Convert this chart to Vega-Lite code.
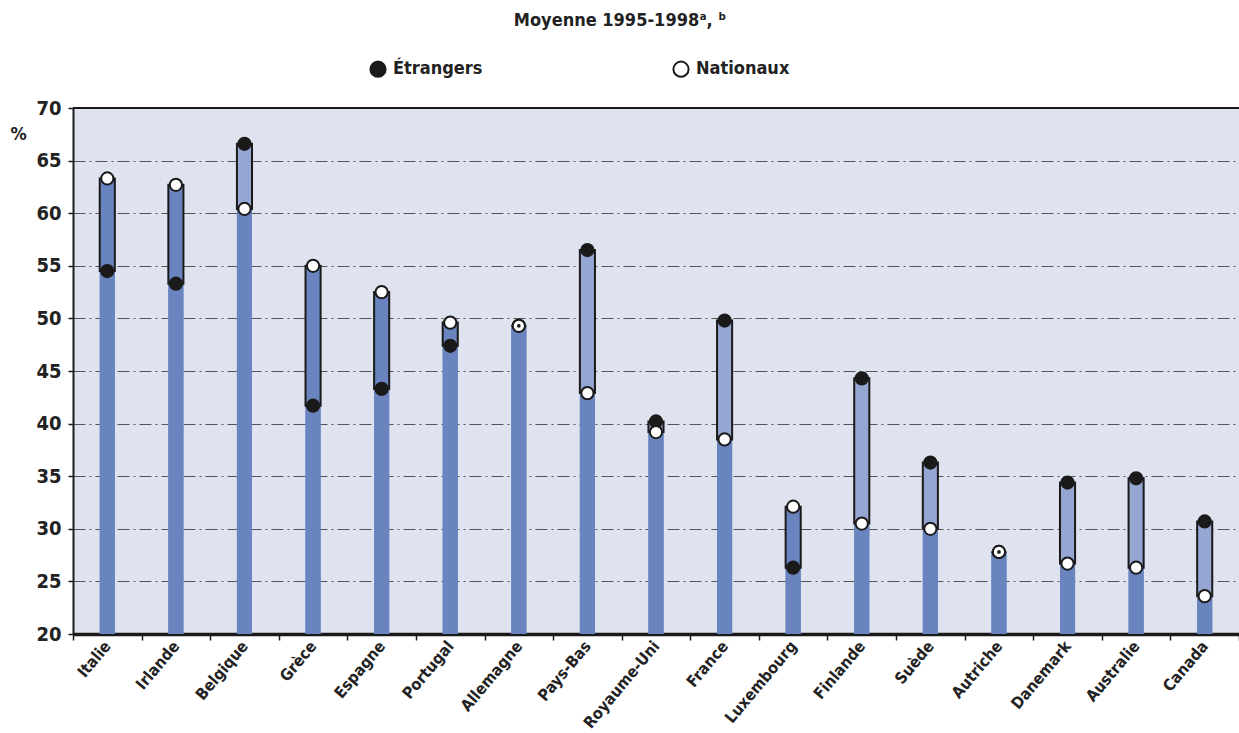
{
  "$schema": "https://vega.github.io/schema/vega-lite/v6.json",
  "width": 1166,
  "height": 526,
  "autosize": {"type": "none"},
  "padding": {"left": 73, "top": 108, "right": 0, "bottom": 99},
  "background": "white",
  "title": {
    "text": "Moyenne 1995-1998ᵃ, ᵇ",
    "frame": "group",
    "anchor": "middle",
    "dx": -36,
    "offset": 30,
    "font": "Liberation Sans Narrow, DejaVu Sans Condensed, sans-serif",
    "fontSize": 18,
    "fontWeight": "bold",
    "color": "#222222"
  },
  "data": {
    "values": [
      {"pays": "Italie", "Étrangers": 54.5, "Nationaux": 63.3},
      {"pays": "Irlande", "Étrangers": 53.3, "Nationaux": 62.7},
      {"pays": "Belgique", "Étrangers": 66.6, "Nationaux": 60.4},
      {"pays": "Grèce", "Étrangers": 41.7, "Nationaux": 55.0},
      {"pays": "Espagne", "Étrangers": 43.3, "Nationaux": 52.5},
      {"pays": "Portugal", "Étrangers": 47.4, "Nationaux": 49.6},
      {"pays": "Allemagne", "Étrangers": 49.3, "Nationaux": 49.3},
      {"pays": "Pays-Bas", "Étrangers": 56.5, "Nationaux": 42.9},
      {"pays": "Royaume-Uni", "Étrangers": 40.2, "Nationaux": 39.2},
      {"pays": "France", "Étrangers": 49.8, "Nationaux": 38.5},
      {"pays": "Luxembourg", "Étrangers": 26.3, "Nationaux": 32.1},
      {"pays": "Finlande", "Étrangers": 44.3, "Nationaux": 30.5},
      {"pays": "Suède", "Étrangers": 36.3, "Nationaux": 30.0},
      {"pays": "Autriche", "Étrangers": 27.8, "Nationaux": 27.8},
      {"pays": "Danemark", "Étrangers": 34.4, "Nationaux": 26.7},
      {"pays": "Australie", "Étrangers": 34.8, "Nationaux": 26.3},
      {"pays": "Canada", "Étrangers": 30.7, "Nationaux": 23.6}
    ]
  },
  "layer": [
    {
      "mark": {"type": "bar", "width": {"band": 0.22}, "color": "#6a84bf"},
      "encoding": {
        "x": {"field": "pays", "type": "nominal", "sort": null, "title": null, "scale": {"paddingInner": 0, "paddingOuter": 0}},
        "y": {"field": "Étrangers", "type": "quantitative", "title": "%", "scale": {"domain": [20, 70], "zero": false, "nice": false}},
        "y2": {"datum": 20}
      }
    },
    {
      "mark": {"type": "bar", "width": {"band": 0.22}, "color": "#6a84bf"},
      "encoding": {
        "x": {"field": "pays", "type": "nominal", "sort": null, "title": null},
        "y": {"field": "Nationaux", "type": "quantitative", "title": "%"},
        "y2": {"datum": 20}
      }
    },
    {
      "mark": {"type": "bar", "width": {"band": 0.22}, "stroke": "#1a1a1a", "strokeWidth": 2},
      "encoding": {
        "x": {"field": "pays", "type": "nominal", "sort": null, "title": null},
        "y": {"field": "Étrangers", "type": "quantitative", "title": "%"},
        "y2": {"field": "Nationaux"},
        "fill": {
          "condition": {"test": "datum['Nationaux'] > datum['Étrangers']", "value": "#6a84bf"},
          "value": "#95a6d3"
        }
      }
    },
    {
      "mark": {"type": "rule", "color": "#1a1a1a", "strokeWidth": 1.5},
      "encoding": {"y": {"datum": 70}}
    },
    {
      "transform": [{"fold": ["Étrangers", "Nationaux"], "as": ["type", "value"]}],
      "mark": {"type": "point", "filled": true, "size": 150, "stroke": "#1a1a1a", "strokeWidth": 2, "opacity": 1, "shape": "circle"},
      "encoding": {
        "x": {"field": "pays", "type": "nominal", "sort": null, "title": null},
        "y": {"field": "value", "type": "quantitative", "title": "%"},
        "fill": {
          "field": "type",
          "type": "nominal",
          "scale": {"domain": ["Étrangers", "Nationaux"], "range": ["#1a1a1a", "#ffffff"]},
          "legend": {
            "title": null,
            "orient": "none",
            "legendX": 296,
            "legendY": -48,
            "direction": "horizontal",
            "symbolType": "circle",
            "symbolSize": 230,
            "symbolStrokeColor": "#1a1a1a",
            "symbolStrokeWidth": 2,
            "labelFont": "Liberation Sans Narrow, DejaVu Sans Condensed, sans-serif",
            "labelFontSize": 18,
            "labelFontWeight": "bold",
            "labelColor": "#222222",
            "labelOffset": 6,
            "columnPadding": 186,
            "padding": 0
          }
        }
      }
    },
    {
      "mark": {"type": "point", "filled": true, "size": 14, "color": "#1a1a1a", "opacity": 1, "shape": "circle"},
      "encoding": {
        "x": {"field": "pays", "type": "nominal", "sort": null, "title": null},
        "y": {"field": "Étrangers", "type": "quantitative", "title": "%"}
      }
    }
  ],
  "config": {
    "view": {"fill": "#dfe3f0", "stroke": null},
    "axisY": {
      "values": [20, 25, 30, 35, 40, 45, 50, 55, 60, 65, 70],
      "grid": true,
      "gridColor": "#555555",
      "gridDash": [12, 4, 2, 4],
      "gridWidth": 1.2,
      "domainColor": "#1a1a1a",
      "domainWidth": 2,
      "tickColor": "#1a1a1a",
      "tickSize": 5,
      "tickWidth": 1.5,
      "labelFont": "Liberation Sans Narrow, DejaVu Sans Condensed, sans-serif",
      "labelFontSize": 20,
      "labelFontWeight": "bold",
      "labelColor": "#222222",
      "labelPadding": 7,
      "titleAngle": 0,
      "titleX": -63,
      "titleY": 26,
      "titleAlign": "left",
      "titleBaseline": "middle",
      "titleFont": "Liberation Sans Narrow, DejaVu Sans Condensed, sans-serif",
      "titleFontSize": 18,
      "titleFontWeight": "bold",
      "titleColor": "#222222"
    },
    "axisX": {
      "zindex": 1,
      "grid": false,
      "tickBand": "extent",
      "tickColor": "#1a1a1a",
      "tickSize": 6,
      "tickWidth": 1.5,
      "domainColor": "#1a1a1a",
      "domainWidth": 3.5,
      "labelAngle": -50,
      "labelFont": "Liberation Sans Narrow, DejaVu Sans Condensed, sans-serif",
      "labelFontSize": 16,
      "labelFontWeight": "bold",
      "labelColor": "#222222",
      "labelPadding": 3
    }
  }
}
